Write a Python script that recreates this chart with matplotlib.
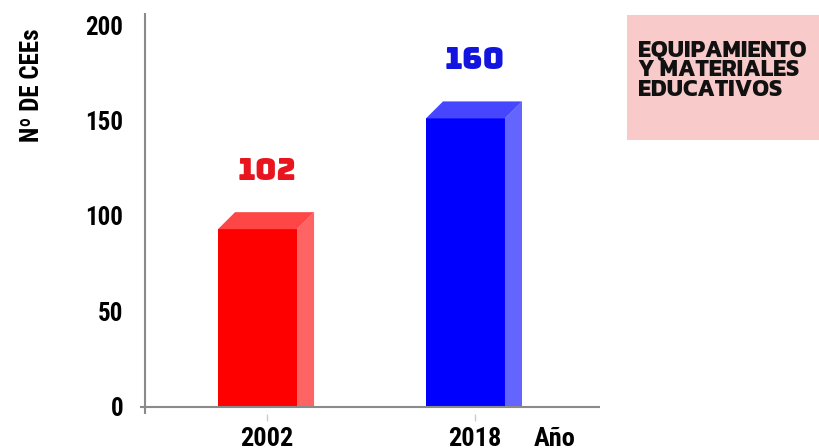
import matplotlib
matplotlib.use("Agg")
import matplotlib.pyplot as plt
from matplotlib.patches import Polygon, Rectangle
from matplotlib import font_manager

categories = ["2002", "2018"]
values = [102, 160]
yticks = [0, 50, 100, 150, 200]
ylabel = "Nº DE CEEs"
xlabel = "Año"
box_text = "EQUIPAMIENTO\nY MATERIALES\nEDUCATIVOS"

front_colors = ["#ff0000", "#0000ff"]
side_colors = ["#ff6464", "#6464ff"]
top_colors = ["#ff4646", "#4646ff"]
label_colors = ["#e8141e", "#1414e0"]

names = {f.name for f in font_manager.fontManager.ttflist}


def pick(*cands):
    for c in cands:
        if c in names:
            return c
    return "DejaVu Sans"


cond = pick("Roboto Condensed", "Barlow Condensed", "Oswald", "Barlow Semi Condensed")
numf = pick("Bungee", "DejaVu Sans Mono")
boxf = pick("Kanit", "Saira", "Titillium Web", "DejaVu Sans")

fig = plt.figure(figsize=(8.19, 4.48), dpi=100)
W, H = 819, 448
ax = fig.add_axes([140 / W, (448 - 414) / H, 460 / W, 401 / H])
ax.set_xlim(-0.611, 1.601)
ax.set_ylim(-3.7, 206.3)

bw = 0.38
dx = 0.082
dy = 8.9
for i, v in enumerate(values):
    x0 = i - 0.236
    h = v - dy
    ax.add_patch(Rectangle((x0, 0), bw, h, facecolor=front_colors[i], edgecolor="none", zorder=2))
    ax.add_patch(Polygon([(x0 + bw, 0), (x0 + bw + dx, 0), (x0 + bw + dx, h + dy), (x0 + bw, h)],
                         closed=True, facecolor=side_colors[i], edgecolor="none", zorder=2))
    ax.add_patch(Polygon([(x0, h), (x0 + bw, h), (x0 + bw + dx, h + dy), (x0 + dx, h + dy)],
                         closed=True, facecolor=top_colors[i], edgecolor="none", zorder=2))
    ax.text(i, v + 22.5, str(v), ha="center", va="center", color=label_colors[i],
            fontsize=21.5, family=numf)

for s in ax.spines.values():
    s.set_visible(False)
ax.axhline(0, color="#8a8a8a", lw=1.5, zorder=3)
ax.axvline(-0.587, color="#8a8a8a", lw=1.5, zorder=3)

ax.set_yticks(yticks)
ax.set_yticklabels([str(t) for t in yticks], fontsize=18, fontweight="bold", family=cond)
ax.tick_params(axis="y", length=0, pad=12)
ax.set_xticks(range(len(categories)))
ax.set_xticklabels(categories, fontsize=19, fontweight="bold", family=cond)
ax.tick_params(axis="x", length=5, color="#cccccc", pad=4, width=1)

fig.text(555 / W, 1 - 446 / H, xlabel, ha="center", va="baseline", fontsize=19,
         fontweight="bold", family=cond)
fig.text(32 / W, 1 - 85 / H, ylabel, ha="center", va="center", rotation=90,
         fontsize=18, fontweight="bold", family=cond)

fig.patches.append(Rectangle((627 / W, 1 - 140 / H), 192 / W, 125 / H,
                             transform=fig.transFigure, facecolor="#f9caca", edgecolor="none"))
fig.text(638 / W, 1 - 70 / H, box_text, ha="left", va="center", fontsize=17,
         fontweight="bold", family=boxf, linespacing=0.86, color="#111111")

fig.savefig("out.png", dpi=100)
